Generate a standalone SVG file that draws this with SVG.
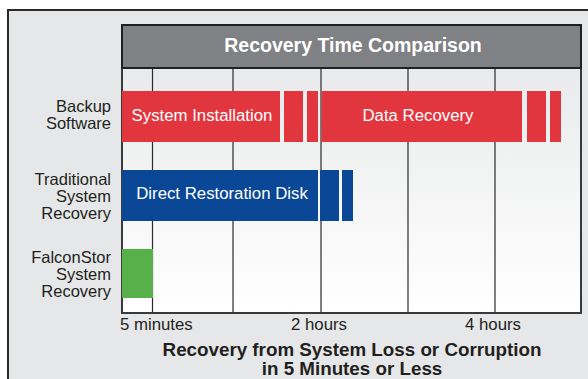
<svg xmlns="http://www.w3.org/2000/svg" width="588" height="379" viewBox="0 0 588 379">
<defs>
<linearGradient id="bg" x1="0" y1="0" x2="0" y2="1">
<stop offset="0" stop-color="#e9eaeb"/>
<stop offset="1" stop-color="#ffffff"/>
</linearGradient>
<style>
text{font-family:"Liberation Sans",Arial,Helvetica,sans-serif;fill:#231f20}
.lbl{font-size:16.5px;text-anchor:end}
.bar{font-size:16.8px;fill:#ffffff}
.ax{font-size:16.8px}
.ttl{font-size:18.8px;font-weight:bold;text-anchor:middle}
.grid{stroke:#2b2b2b;stroke-width:1.2}
.red{fill:#e2363f}
.blue{fill:#0a4796}
.green{fill:#58b04a}
</style>
</defs>
<rect x="0" y="0" width="588" height="379" fill="#ffffff"/>
<rect x="8" y="10" width="600" height="400" fill="#e6e7e8" stroke="#2b2b2b" stroke-width="2"/>
<g id="chart">
<rect x="122" y="68" width="459" height="245" fill="url(#bg)" stroke="#3a3a3a" stroke-width="2"/>
<rect id="header" x="122" y="25" width="459" height="43" fill="#808184" stroke="#231f20" stroke-width="2"/>
<text x="353" y="52" style="font-size:19.5px;font-weight:bold;fill:#ffffff;text-anchor:middle">Recovery Time Comparison</text>
</g>
<g id="connectors">
<line class="grid" x1="152.5" y1="69" x2="152.5" y2="312"/>
<line class="grid" x1="233" y1="69" x2="233" y2="312"/>
<line class="grid" x1="321" y1="69" x2="321" y2="312"/>
<line class="grid" x1="408" y1="69" x2="408" y2="312"/>
<line class="grid" x1="495" y1="69" x2="495" y2="312"/>
</g>
<g id="backup">
<text class="lbl" x="111" y="112">Backup</text>
<text class="lbl" x="111" y="129">Software</text>
<rect class="red" x="122" y="91" width="158" height="51"/>
<rect class="red" x="284" y="91" width="19" height="51"/>
<rect class="red" x="307" y="91" width="11" height="51"/>
<rect class="red" x="321.5" y="91" width="200.5" height="51"/>
<rect class="red" x="527" y="91" width="19" height="51"/>
<rect class="red" x="550" y="91" width="11" height="51"/>
<text class="bar" x="202" y="121" text-anchor="middle">System Installation</text>
<text class="bar" x="418" y="121" text-anchor="middle">Data Recovery</text>
</g>
<g id="traditional">
<text class="lbl" x="111" y="184.5">Traditional</text>
<text class="lbl" x="111" y="201.5">System</text>
<text class="lbl" x="111" y="218.5">Recovery</text>
<rect class="blue" x="122" y="170" width="196" height="51"/>
<rect class="blue" x="320" y="170" width="19" height="51"/>
<rect class="blue" x="342" y="170" width="11" height="51"/>
<text class="bar" x="222" y="199" text-anchor="middle">Direct Restoration Disk</text>
</g>
<g id="falconstor">
<text class="lbl" x="111" y="262.5">FalconStor</text>
<text class="lbl" x="111" y="279.5">System</text>
<text class="lbl" x="111" y="296.5">Recovery</text>
<rect class="green" x="122" y="249" width="31" height="49"/>
</g>
<g id="axis">
<text class="ax" x="120" y="330">5 minutes</text>
<text class="ax" x="319" y="330" text-anchor="middle">2 hours</text>
<text class="ax" x="493" y="330" text-anchor="middle">4 hours</text>
<text class="ttl" x="352" y="356">Recovery from System Loss or Corruption</text>
<text class="ttl" x="352" y="375">in 5 Minutes or Less</text>
</g>
</svg>
